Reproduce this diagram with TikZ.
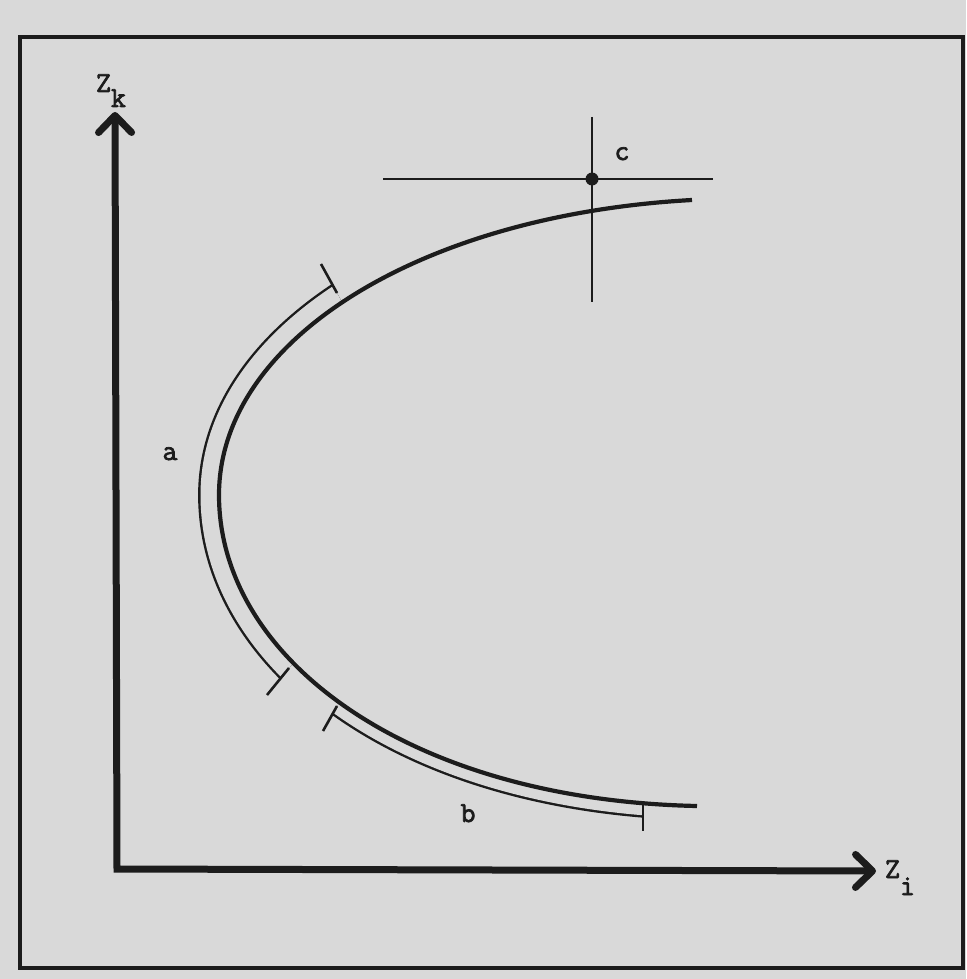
\documentclass[tikz,border=0pt]{standalone}
\usepackage{fontspec}
\usetikzlibrary{arrows.meta,calc}
\newfontfamily\twfont{Latin Modern Mono}[FakeBold=2.5]
\definecolor{bg}{RGB}{217,217,217}
\definecolor{ink}{RGB}{28,28,28}
\begin{document}
\begin{tikzpicture}[x=1pt,y=-1pt,
  frame/.style={draw=ink,line width=3.8pt},
  axis/.style={draw=ink,line width=7pt,line join=miter},
  maincurve/.style={draw=ink,line width=4.2pt},
  bandline/.style={draw=ink,line width=2.4pt,double=bg},
  tickline/.style={draw=ink,line width=2.6pt},
  hair/.style={draw=ink,line width=2.6pt},
  lbl/.style={inner sep=0pt,anchor=base,text=ink,font=\twfont\fontsize{29}{31}\selectfont}]
\fill[bg] (0,0) rectangle (966,979);
\useasboundingbox (0,0) rectangle (966,979);
% frame
\draw[frame] (20,37) rectangle (963,968);
% axes
\coordinate (O) at (117,869);
\coordinate (ytip) at (115,112);
\coordinate (xtip) at (876,871);
\draw[axis,{Straight Barb[length=17pt,width=33pt,round]}-{Straight Barb[length=17pt,width=33pt,round]}] (ytip) -- (O) -- (xtip);
% curve end points and tick coordinates
\coordinate (ctop) at (692,200);
\coordinate (cleft) at (219,495);
\coordinate (cbot) at (697,806);
\coordinate (ta1) at (337,293); \coordinate (ta1e) at (321,264);
\coordinate (ta2) at (289,668); \coordinate (ta2e) at (267,695);
\coordinate (tb1) at (337,706); \coordinate (tb1e) at (323,731);
\coordinate (tb2) at (643,801); \coordinate (tb2e) at (643,831);
% bands (outer offsets of the curve)
\begin{scope}
\clip (692,0) -- (ctop) .. controls (420,215) and (219,340) .. (cleft) .. controls (219,660) and (410,800) .. (cbot) -- (697,979) -- (0,979) -- (0,0) -- cycle;
\begin{scope}
\clip (ta1) -- ($(ta1)!3!(ta1e)$) -- (0,200) -- (0,760) -- ($(ta2)!3!(ta2e)$) -- (ta2) -- (450,500) -- cycle;
\draw[bandline,double distance=37pt] (ctop) .. controls (420,215) and (219,340) .. (cleft) .. controls (219,660) and (410,800) .. (cbot);
\end{scope}
\begin{scope}
\clip (tb1) -- ($(tb1)!3!(tb1e)$) -- ($(tb2)!3!(tb2e)$) -- (tb2) -- (500,600) -- cycle;
\draw[bandline,double distance=24pt] (ctop) .. controls (420,215) and (219,340) .. (cleft) .. controls (219,660) and (410,800) .. (cbot);
\end{scope}
\end{scope}
% main curve
\draw[maincurve] (ctop) .. controls (420,215) and (219,340) .. (cleft) .. controls (219,660) and (410,800) .. (cbot);
% ticks
\draw[tickline] (ta1) -- (ta1e);
\draw[tickline] (ta2) -- (ta2e);
\draw[tickline] (tb1) -- (tb1e);
\draw[tickline] (tb2) -- (tb2e);
% crosshair
\coordinate (c) at (592,179);
\coordinate (hl) at (383,179); \coordinate (hr) at (713,179);
\coordinate (vt) at (592,117); \coordinate (vb) at (592,302);
\draw[hair] (hl) -- (hr);
\draw[hair] (vt) -- (vb);
\fill[ink] (c) circle (6.5);
% labels
\node[lbl] (zk) at (111,92) {Z\raisebox{-15pt}{k}};
\node[lbl] (zi) at (900,878) {Z\raisebox{-17pt}{i}};
\node[lbl] (la) at (170,460) {a};
\node[lbl] (lb) at (468,822) {b};
\node[lbl] (lc) at (622,160) {c};
\end{tikzpicture}
\end{document}
